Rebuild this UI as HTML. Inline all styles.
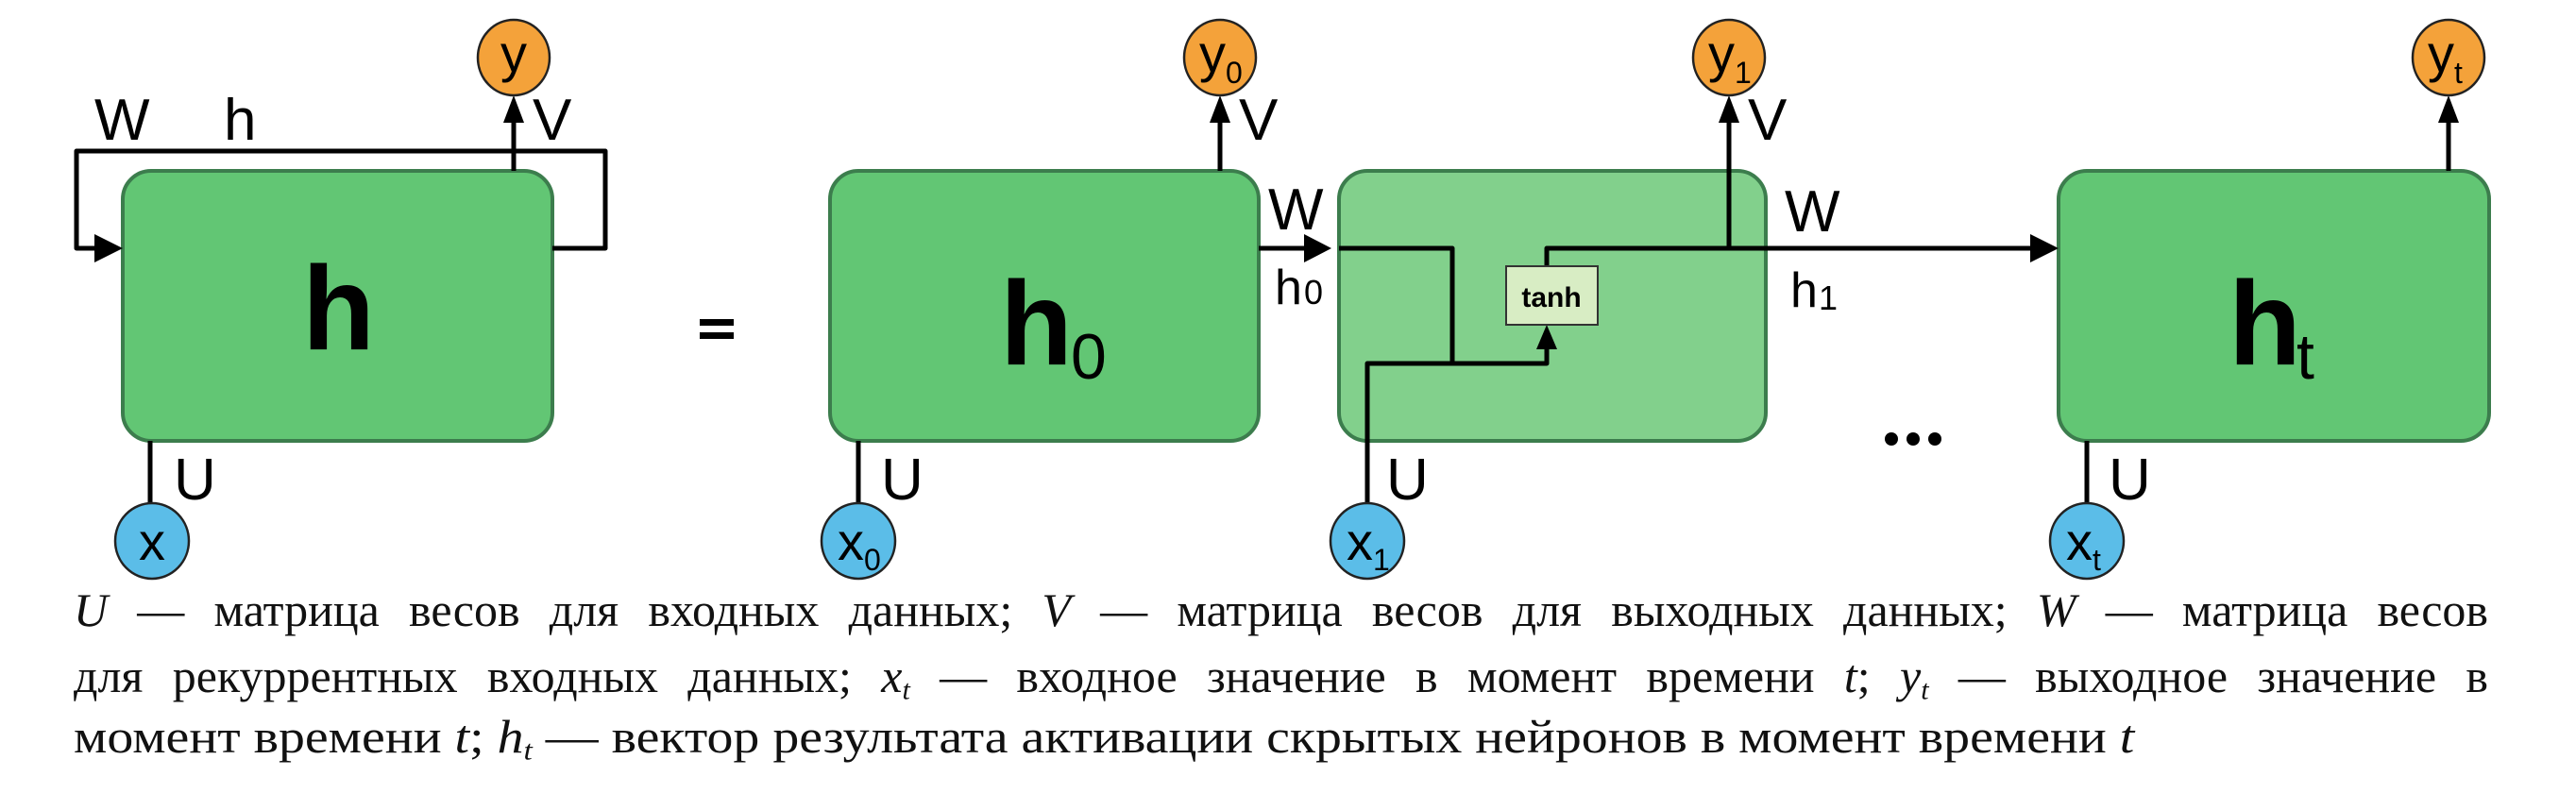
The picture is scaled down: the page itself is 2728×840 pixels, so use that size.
<!DOCTYPE html>
<html><head><meta charset="utf-8"><style>
html,body{margin:0;padding:0;background:#fff;}
body{width:2728px;height:840px;position:relative;overflow:hidden;}
svg{position:absolute;left:0;top:0;}
.cap{position:absolute;left:78px;width:2557px;font-family:"Liberation Serif",serif;font-size:50px;line-height:56px;color:#111;white-space:nowrap;}
.j{text-align:justify;text-align-last:justify;}
i{font-style:italic;}
sub{font-size:0.6em;vertical-align:-0.25em;line-height:0;}
</style></head><body>
<svg width="2728" height="840" viewBox="0 0 2728 840" font-family="Liberation Sans, sans-serif">
<g stroke="#3c7d4d" stroke-width="4">
<rect x="130" y="181" width="455" height="286" rx="30" fill="#62c674"/>
<rect x="879" y="181" width="454" height="286" rx="30" fill="#62c674"/>
<rect x="1418" y="181" width="452" height="286" rx="30" fill="#82d08c"/>
<rect x="2180" y="181" width="456" height="286" rx="30" fill="#62c674"/>
</g>
<g stroke="#000" stroke-width="5" fill="none" stroke-linejoin="round">
<path d="M544 181 V125"/>
<path d="M585 263 H641 V160 H81 V263 H110"/>
<path d="M159 467 V536"/>
<path d="M1292 181 V125"/>
<path d="M909 467 V536"/>
<path d="M1333 263 H1385"/>
<path d="M1418 263 H1538 V383"/>
<path d="M1448 536 V385 H1638 V368"/>
<path d="M1638 282 V263 H2150"/>
<path d="M1831 263 V125"/>
<path d="M2593 181 V125"/>
<path d="M2210 467 V536"/>
</g>
<g fill="#000">
<polygon points="544,101 533,130 555,130"/>
<polygon points="1292,101 1281,130 1303,130"/>
<polygon points="1831,101 1820,130 1842,130"/>
<polygon points="2593,101 2582,130 2604,130"/>
<polygon points="130,263 100,248 100,278"/>
<polygon points="1410,263 1381,248 1381,278"/>
<polygon points="2180,263 2150,248 2150,278"/>
<polygon points="1638,344 1627,370 1649,370"/>
</g>
<rect x="1595" y="282" width="97" height="62" fill="#d8edc4" stroke="#333" stroke-width="2"/>
<text x="1643" y="325" font-size="30" font-weight="bold" text-anchor="middle">tanh</text>
<g stroke="#222" stroke-width="2.5">
<ellipse cx="544" cy="61" rx="38" ry="40" fill="#f4a23a"/>
<ellipse cx="1292" cy="61" rx="38" ry="40" fill="#f4a23a"/>
<ellipse cx="1831" cy="61" rx="38" ry="40" fill="#f4a23a"/>
<ellipse cx="2593" cy="61" rx="38" ry="40" fill="#f4a23a"/>
<ellipse cx="161" cy="573" rx="39" ry="40" fill="#5bbde8"/>
<ellipse cx="909" cy="573" rx="39" ry="40" fill="#5bbde8"/>
<ellipse cx="1448" cy="573" rx="39" ry="40" fill="#5bbde8"/>
<ellipse cx="2210" cy="573" rx="39" ry="40" fill="#5bbde8"/>
</g>
<g font-size="56">
<text x="544" y="76" text-anchor="middle">y</text>
<text x="1284" y="76" text-anchor="middle">y</text><text x="1298" y="88" font-size="32">0</text>
<text x="1823" y="76" text-anchor="middle">y</text><text x="1837" y="88" font-size="32">1</text>
<text x="2585" y="76" text-anchor="middle">y</text><text x="2599" y="88" font-size="32">t</text>
<text x="161" y="593" text-anchor="middle">x</text>
<text x="901" y="593" text-anchor="middle">x</text><text x="915" y="604" font-size="32">0</text>
<text x="1440" y="593" text-anchor="middle">x</text><text x="1454" y="604" font-size="32">1</text>
<text x="2202" y="593" text-anchor="middle">x</text><text x="2216" y="604" font-size="32">t</text>
</g>
<g font-size="62">
<text x="100" y="148">W</text>
<text x="237" y="148">h</text>
<text x="564" y="148">V</text>
<text x="1312" y="148">V</text>
<text x="1851" y="148">V</text>
<text x="184" y="529">U</text>
<text x="933" y="529">U</text>
<text x="1468" y="529">U</text>
<text x="2233" y="529">U</text>
<text x="1343" y="243">W</text>
<text x="1890" y="245">W</text>
<text x="1350" y="322" font-size="52">h</text><text x="1381" y="322" font-size="36">0</text>
<text x="1896" y="325" font-size="52">h</text><text x="1926" y="328" font-size="36">1</text>
</g>
<g font-weight="bold" font-size="126">
<text x="320" y="370">h</text>
<text x="1059" y="386">h</text>
<text x="2360" y="386">h</text>
</g>
<text x="1134" y="401" font-size="68">0</text>
<text x="2432" y="401" font-size="68">t</text>
<rect x="741" y="338" width="36" height="7" fill="#000"/>
<rect x="741" y="352" width="36" height="7" fill="#000"/>
<g fill="#000"><circle cx="2003" cy="465" r="7"/><circle cx="2026" cy="465" r="7"/><circle cx="2049" cy="465" r="7"/></g>
</svg>
<div class="cap j" style="top:618px;"><i>U</i> — матрица весов для входных данных; <i>V</i> — матрица весов для выходных данных; <i>W</i> — матрица весов</div>
<div class="cap j" style="top:688px;">для рекуррентных входных данных; <i>x<sub>t</sub></i> — входное значение в момент времени <i>t</i>; <i>y<sub>t</sub></i> — выходное значение в</div>
<div class="cap" style="top:752px;width:auto;transform:scaleX(1.117);transform-origin:0 0;">момент времени <i>t</i>; <i>h<sub>t</sub></i> — вектор результата активации скрытых нейронов в момент времени <i>t</i></div>
</body></html>
